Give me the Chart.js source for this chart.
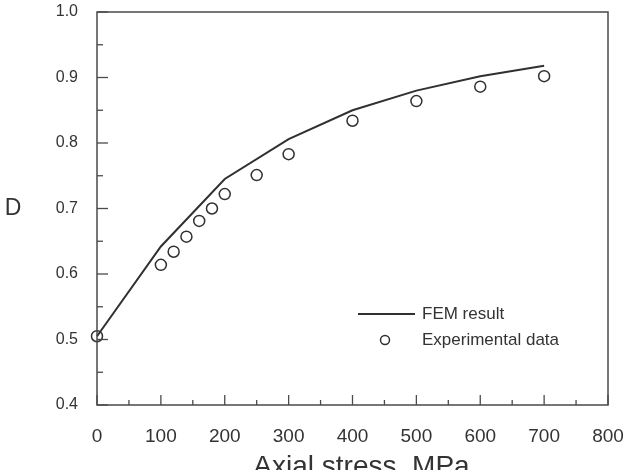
<!DOCTYPE html>
<html><head><meta charset="utf-8">
<script src="https://cdn.jsdelivr.net/npm/chart.js@4/dist/chart.umd.min.js"></script>
<style>html,body{margin:0;padding:0;background:#fff;} #wrap{width:627px;height:470px;position:relative;}</style>
</head><body><div id="wrap"><canvas id="c" width="627" height="470"></canvas></div>
<script>
// Data
const femStress = [0, 100, 200, 300, 400, 500, 600, 700];
const femD      = [0.505, 0.642, 0.745, 0.806, 0.850, 0.880, 0.902, 0.918];
const expStress = [0, 100, 120, 140, 160, 180, 200, 250, 300, 400, 500, 600, 700];
const expD      = [0.505, 0.614, 0.634, 0.657, 0.681, 0.700, 0.722, 0.751, 0.783, 0.834, 0.864, 0.886, 0.902];
const xTickValues = [0, 100, 200, 300, 400, 500, 600, 700, 800];
const yTickValues = [0.4, 0.5, 0.6, 0.7, 0.8, 0.9, 1.0];
const seriesNames = ['FEM result', 'Experimental data'];
const xTitle = 'Axial stress, MPa';
const yTitle = 'D';

const INK = '#333333';
const AXIS = '#4a4a4a';
const FONT = "'Liberation Sans', Arial, sans-serif";

const frameAndTicks = {
  id: 'frameAndTicks',
  afterDraw(chart) {
    const {ctx, chartArea: a, scales: {x, y}} = chart;
    ctx.save();
    ctx.strokeStyle = AXIS;
    ctx.lineWidth = 1.5;
    ctx.strokeRect(a.left, a.top, a.right - a.left, a.bottom - a.top);
    ctx.lineWidth = 1.3;
    // x ticks (inward), major every 100, minor at 50s
    for (let v = 0; v <= 800; v += 50) {
      const px = x.getPixelForValue(v);
      const len = (v % 100 === 0) ? 10 : 5;
      ctx.beginPath(); ctx.moveTo(px, a.bottom); ctx.lineTo(px, a.bottom - len); ctx.stroke();
    }
    for (let i = 0; i <= 12; i++) {
      const v = 0.4 + i * 0.05;
      const py = y.getPixelForValue(v);
      const len = (i % 2 === 0) ? 11 : 6;
      ctx.beginPath(); ctx.moveTo(a.left, py); ctx.lineTo(a.left + len, py); ctx.stroke();
    }
    // y title (upright)
    ctx.fillStyle = INK;
    ctx.font = '23px ' + FONT;
    ctx.textAlign = 'center';
    ctx.textBaseline = 'middle';
    ctx.fillText(yTitle, 13, (a.top + a.bottom) / 2);
    // x title
    ctx.font = '28px ' + FONT;
    ctx.textBaseline = 'alphabetic';
    ctx.fillText(xTitle, (a.left + a.right) / 2 + 9, 475);
    // legend inside plot
    const ds0 = chart.data.datasets[0], ds1 = chart.data.datasets[1];
    const lx = a.left + 261, ly = a.top + 302;
    ctx.strokeStyle = ds0.borderColor; ctx.lineWidth = 2;
    ctx.beginPath(); ctx.moveTo(lx, ly); ctx.lineTo(lx + 57, ly); ctx.stroke();
    ctx.strokeStyle = ds1.borderColor; ctx.lineWidth = 1.5;
    ctx.beginPath(); ctx.arc(lx + 27, ly + 26, 4.5, 0, Math.PI * 2); ctx.stroke();
    ctx.fillStyle = INK;
    ctx.font = '17px ' + FONT;
    ctx.textAlign = 'left';
    ctx.textBaseline = 'middle';
    ctx.fillText(ds0.label, lx + 64, ly);
    ctx.fillText(ds1.label, lx + 64, ly + 26);
    ctx.restore();
  }
};

new Chart(document.getElementById('c'), {
  type: 'scatter',
  data: {
    datasets: [
      {
        label: seriesNames[0],
        type: 'line',
        data: femStress.map((s, i) => ({x: s, y: femD[i]})),
        borderColor: '#303030',
        borderWidth: 2,
        pointRadius: 0,
        fill: false,
        tension: 0,
        clip: false
      },
      {
        label: seriesNames[1],
        data: expStress.map((s, i) => ({x: s, y: expD[i]})),
        borderColor: '#303030',
        backgroundColor: 'rgba(0,0,0,0)',
        borderWidth: 1.5,
        pointRadius: 5.5,
        pointStyle: 'circle',
        clip: false
      }
    ]
  },
  options: {
    responsive: false,
    animation: false,
    devicePixelRatio: 1,
    layout: {padding: {left: 0, top: 12, right: 19, bottom: 0}},
    plugins: {legend: {display: false}, tooltip: {enabled: false}},
    scales: {
      x: {
        type: 'linear',
        min: 0, max: 800,
        afterBuildTicks: s => { s.ticks = xTickValues.map(v => ({value: v})); },
        afterFit: s => { s.height = 65; s.paddingLeft = 0; s.paddingRight = 0; },
        grid: {display: false, drawTicks: false},
        border: {display: false},
        ticks: {color: INK, font: {family: FONT, size: 19}, padding: 20, maxRotation: 0,
                callback: v => String(v)}
      },
      y: {
        type: 'linear',
        min: 0.4, max: 1.0,
        afterBuildTicks: s => { s.ticks = yTickValues.map(v => ({value: v})); },
        afterFit: s => { s.width = 97; s.paddingTop = 0; s.paddingBottom = 0; },
        grid: {display: false, drawTicks: false},
        border: {display: false},
        ticks: {color: INK, font: {family: FONT, size: 16}, padding: 19,
                callback: v => Number(v).toFixed(1)}
      }
    }
  },
  plugins: [frameAndTicks]
});
</script>
</body></html>
